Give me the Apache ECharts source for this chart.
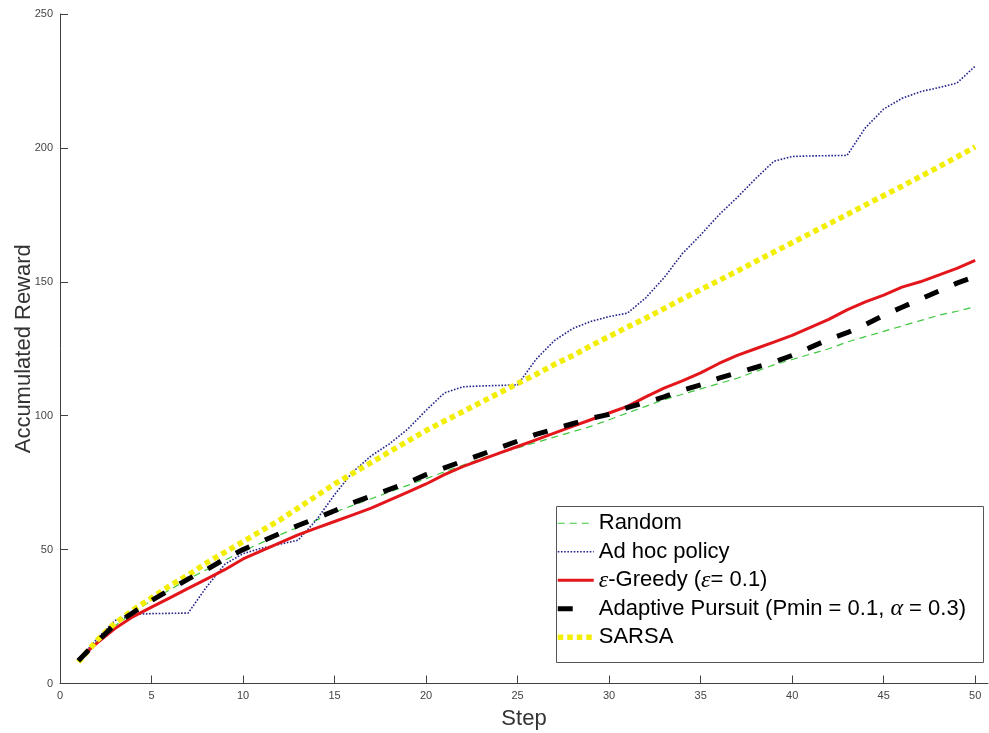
<!DOCTYPE html>
<html>
<head>
<meta charset="utf-8">
<script src="https://cdn.jsdelivr.net/npm/echarts@6/dist/echarts.min.js"></script>
<style>
  html, body { margin: 0; padding: 0; background: #ffffff; }
  #chart { width: 989px; height: 733px; }
</style>
</head>
<body>
<div id="chart"></div>
<script>
// Accumulated reward per step for each selection strategy
const steps = [1, 2, 3, 4, 5, 6, 7, 8, 9, 10, 11, 12, 13, 14, 15, 16, 17, 18, 19, 20,
  21, 22, 23, 24, 25, 26, 27, 28, 29, 30, 31, 32, 33, 34, 35, 36, 37, 38, 39, 40,
  41, 42, 43, 44, 45, 46, 47, 48, 49, 50];

const randomReward = [8.5, 15.5, 21.5, 26.5, 31, 35, 39, 42.5, 46, 49.5,
  52.5, 55.5, 58.3, 61, 64, 66.5, 69, 71.5, 74, 76.5,
  79, 81.5, 84, 86, 88, 90, 92, 94, 96, 98.5,
  101, 103.5, 106, 108, 110, 112, 114, 116.5, 119, 121,
  123, 125, 127.5, 129.5, 131.5, 133.5, 135.5, 137.5, 139, 140.7];

const adHocReward = [8.5, 16.5, 23.5, 25.8, 26.1, 26.2, 26.3, 36, 44.5, 48.5,
  50.5, 52, 53.5, 61, 70.5, 79, 85, 89.5, 95, 102,
  108.5, 110.8, 111.1, 111.3, 111.5, 121, 128, 132.5, 135.2, 137,
  138.3, 144, 151.5, 160.5, 167.5, 175, 181.5, 188.5, 195, 196.8,
  197, 197.1, 197.2, 207.5, 214.5, 218.5, 221, 222.5, 224.2, 230.5];

const greedyReward = [9, 15, 20.5, 25, 28.5, 32, 35.5, 39, 42.5, 46.5,
  49.5, 52.5, 55.5, 58, 60.5, 63, 65.5, 68.5, 71.5, 74.5,
  78, 81, 83.5, 86, 88.5, 91, 93.5, 96, 98.5, 101,
  103.5, 107, 110.3, 113, 116, 119.5, 122.5, 125, 127.5, 130,
  133, 136, 139.5, 142.5, 145, 148, 150, 152.5, 155, 158];

const pursuitReward = [8.5, 15.5, 22, 26.5, 31, 35, 39, 42.5, 46.5, 50,
  53, 56, 59, 61.7, 64.5, 67.5, 70, 72.5, 75, 78,
  80.5, 83, 85.5, 88, 90.5, 93, 95, 97, 99, 100.5,
  103, 105, 107, 109.5, 111.5, 114, 116, 118, 120, 122.5,
  125.5, 128.5, 131, 134, 137.5, 140.5, 143.5, 146.5, 149.5, 152];

const sarsaReward = [8, 16, 22.5, 27.5, 32, 36.5, 40.5, 45, 49, 53,
  57, 61, 65.5, 70, 74.5, 78.5, 82.5, 86.5, 90.5, 94.5,
  98, 101.5, 105, 108.5, 112, 115.4, 119.1, 122.4, 126.1, 129.6,
  133.1, 136.4, 140, 143.6, 147.1, 150.5, 154, 157.6, 161.1, 164.6,
  168.1, 171.6, 175.1, 178.7, 182.2, 185.7, 189.3, 192.9, 196.6, 200.4];

const seriesNames = [
  'Random',
  'Ad hoc policy',
  'ε-Greedy (ε = 0.1)',
  'Adaptive Pursuit (Pmin = 0.1, α = 0.3)',
  'SARSA'
];

const xTickValues = [0, 5, 10, 15, 20, 25, 30, 35, 40, 45, 50];
const yTickValues = [0, 50, 100, 150, 200, 250];

// Legend text with the Greek symbols set in italic
const legendRich = {
  'Random': 'Random',
  'Ad hoc policy': 'Ad hoc policy',
  'ε-Greedy (ε = 0.1)': '{g|ε}-Greedy ({g|ε}= 0.1)',
  'Adaptive Pursuit (Pmin = 0.1, α = 0.3)': 'Adaptive Pursuit (Pmin = 0.1, {g|α} = 0.3)',
  'SARSA': 'SARSA'
};

function pairs(values) {
  return steps.map((s, i) => [s, values[i]]);
}

const styles = [
  { color: '#3fc83f', width: 1.2, type: [7, 5], z: 2 },
  { color: '#23238c', width: 1.6, type: [1.6, 1.6], z: 3 },
  { color: '#e3161b', width: 3, type: 'solid', z: 4 },
  { color: '#000000', width: 5, type: [15, 17], z: 6 },
  { color: '#f3ee06', width: 5.5, type: [5.5, 4], z: 5 }
];
const values = [randomReward, adHocReward, greedyReward, pursuitReward, sarsaReward];

const series = seriesNames.map((name, i) => ({
  name: name,
  type: 'line',
  data: pairs(values[i]),
  symbol: 'none',
  z: styles[i].z,
  lineStyle: { color: styles[i].color, width: styles[i].width, type: styles[i].type, cap: 'butt' },
  itemStyle: { color: styles[i].color }
}));

const legendData = seriesNames.map((name, i) => ({
  name: name,
  itemStyle: { color: 'transparent', borderWidth: 0, opacity: 0 },
  lineStyle: {
    color: styles[i].color,
    width: styles[i].width,
    type: i === 3 ? [15, 40] : styles[i].type
  }
}));

const chart = echarts.init(document.getElementById('chart'), null, { renderer: 'canvas' });

chart.setOption({
  animation: false,
  backgroundColor: '#ffffff',
  grid: { left: 60, right: 1, top: 14, bottom: 49.5, containLabel: false, outerBoundsMode: 'none' },
  xAxis: {
    type: 'value',
    min: 0,
    max: 50.7,
    interval: 5,
    name: 'Step',
    nameLocation: 'middle',
    nameGap: 24,
    nameMoveOverlap: false,
    nameTextStyle: { fontFamily: 'Liberation Sans', fontSize: 22, color: '#333333' },
    axisLine: { show: true, onZero: false, lineStyle: { color: '#404040', width: 1 } },
    axisTick: { show: true, inside: true, length: 8, customValues: xTickValues, lineStyle: { color: '#404040' } },
    axisLabel: { customValues: xTickValues, fontFamily: 'Liberation Sans', fontSize: 11, color: '#444444', margin: 7 },
    splitLine: { show: false }
  },
  yAxis: {
    type: 'value',
    min: 0,
    max: 250,
    interval: 50,
    name: 'Accumulated Reward',
    nameLocation: 'middle',
    nameGap: 25,
    nameMoveOverlap: false,
    nameTextStyle: { fontFamily: 'Liberation Sans', fontSize: 22, color: '#333333' },
    axisLine: { show: true, onZero: false, lineStyle: { color: '#404040', width: 1 } },
    axisTick: { show: true, inside: true, length: 8, customValues: yTickValues, lineStyle: { color: '#404040' } },
    axisLabel: { customValues: yTickValues, fontFamily: 'Liberation Sans', fontSize: 11, color: '#444444', margin: 7 },
    splitLine: { show: false }
  },
  graphic: [{
    type: 'rect',
    z: 1,
    shape: { x: 556.5, y: 506.5, width: 427, height: 156 },
    style: { fill: '#ffffff', stroke: '#555555', lineWidth: 1 }
  }],
  legend: {
    orient: 'vertical',
    left: 555,
    top: 509,
    padding: 0,
    itemWidth: 36,
    itemHeight: 14,
    itemGap: 0,
    z: 5,
    data: legendData,
    formatter: name => legendRich[name],
    textStyle: {
      fontFamily: 'Liberation Sans',
      fontSize: 22,
      color: '#000000',
      lineHeight: 28.5,
      rich: {
        g: { fontFamily: 'Liberation Serif', fontStyle: 'italic', fontSize: 24, color: '#000000', lineHeight: 28.5 }
      }
    }
  },
  series: series
});
</script>
</body>
</html>
